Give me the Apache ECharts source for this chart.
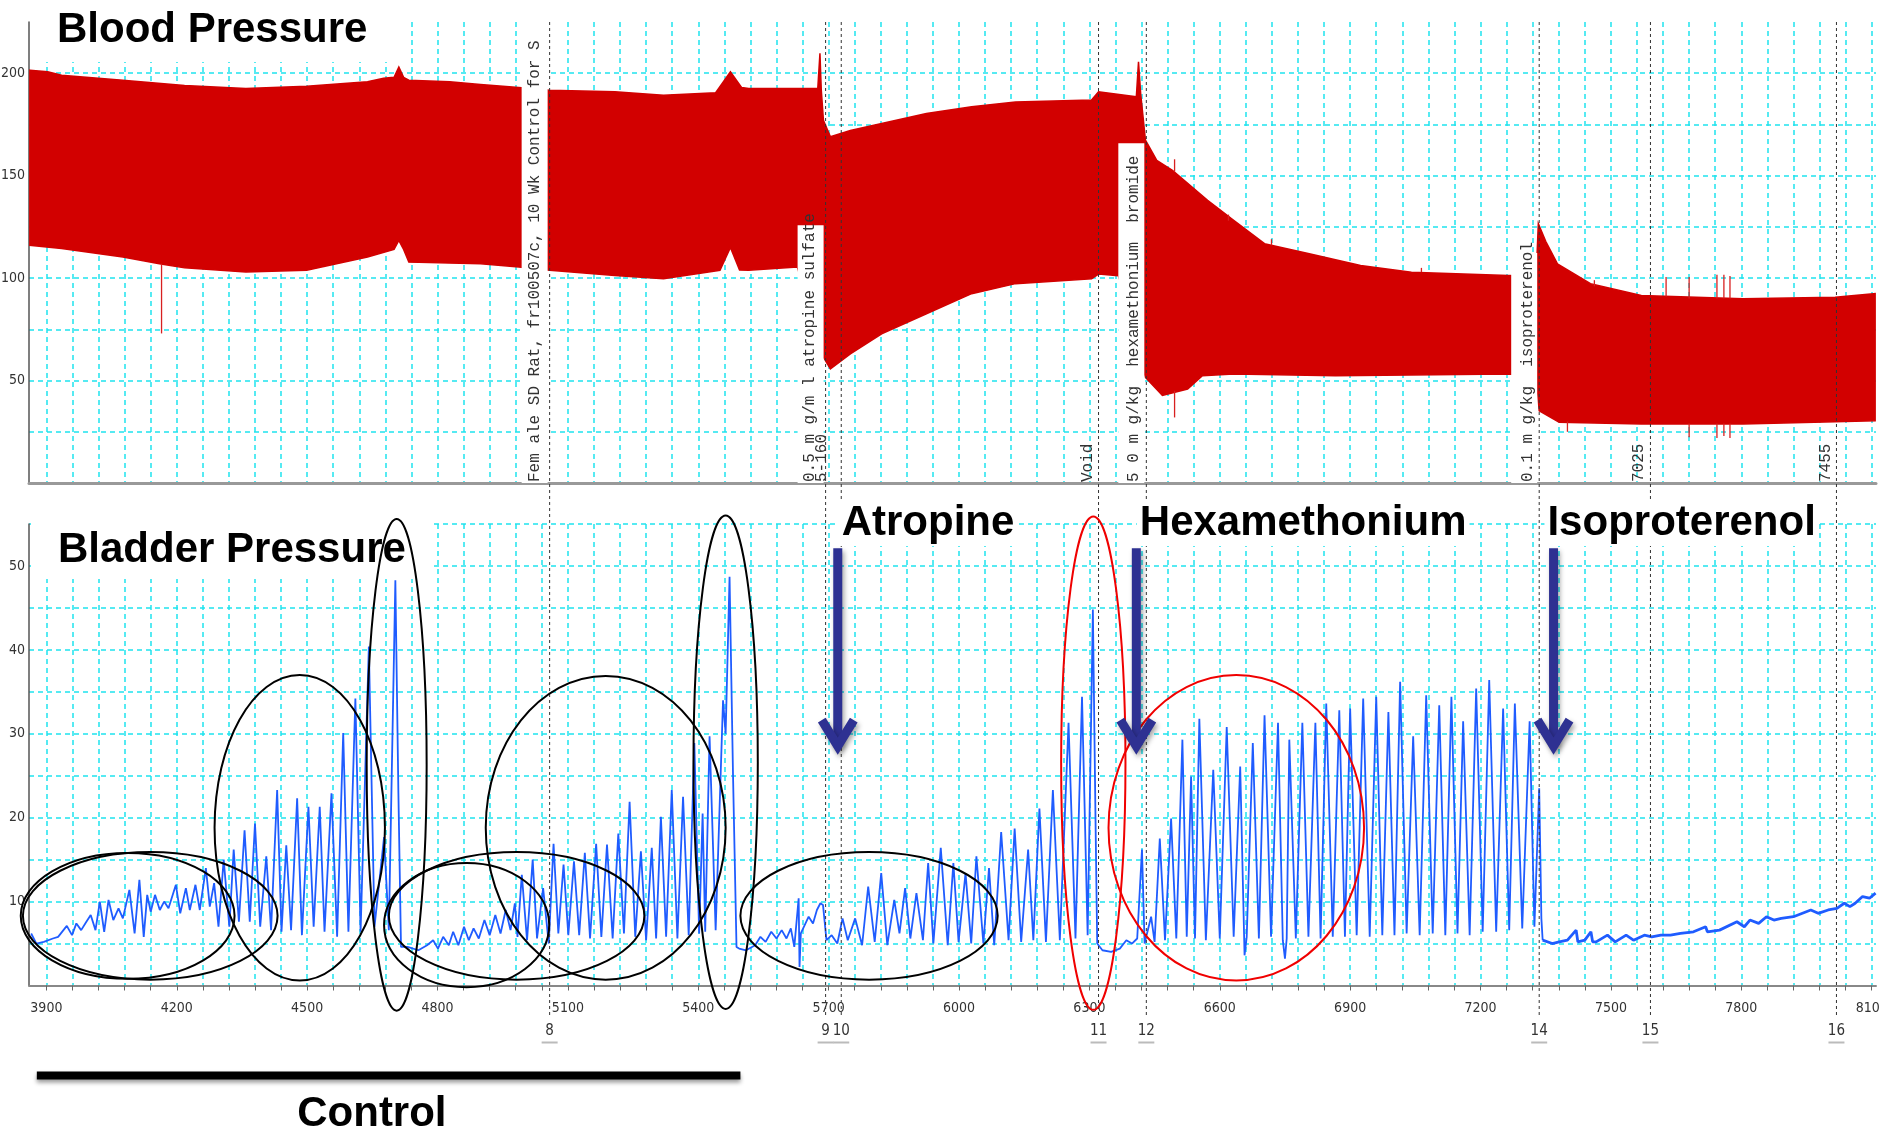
<!DOCTYPE html>
<html>
<head>
<meta charset="utf-8">
<title>Blood pressure / bladder pressure</title>
<script src="https://cdn.jsdelivr.net/npm/echarts@6.0.0/dist/echarts.min.js"></script>
<style>
  html, body { margin: 0; padding: 0; background: #fff; }
  #chart { width: 1880px; height: 1129px; }
</style>
</head>
<body>
<div id="chart"></div>
<script>
// axis ticks
const xTickLabels = [3900, 4200, 4500, 4800, 5100, 5400, 5700, 6000, 6300, 6600, 6900, 7200, 7500, 7800, 8100]
const bpTickLabels = [50, 100, 150, 200]
const bladderTickLabels = [10, 20, 30, 40, 50]

// blood pressure pulse band: upper and lower edge [time, mmHg]
const bpUpper = [
  [3862, 201.5], [3903, 200.7], [3935, 199], [4076, 196.6], [4218, 194], [4359, 192.6], [4499, 193.7],
  [4639, 195.8], [4676, 197.5], [4700, 198], [4711, 203], [4722, 198], [4734, 196.6], [4828, 195.8],
  [4899, 194.5], [4987, 193], [5058, 191.7], [5208, 190.9], [5320, 189.3], [5440, 190.5], [5474, 200.7],
  [5500, 193], [5516, 192.6], [5675, 192.6], [5680, 209.7], [5683, 192], [5688, 177], [5704, 169],
  [5750, 172], [5822, 175.5], [5925, 180.3], [6029, 183.6], [6130, 186], [6305, 186.9], [6321, 190.9],
  [6408, 188.5], [6413, 205.6], [6418, 190], [6429, 167.3], [6455, 157.5], [6491, 152.6], [6572, 138],
  [6632, 128.2], [6703, 116.8], [6806, 111.9], [6924, 106.2], [7041, 102.9], [7264, 101.3], [7328, 101],
  [7333, 126.6], [7350, 118], [7377, 107], [7453, 97.3], [7570, 91.5], [7804, 89.9], [8016, 90.6], [8108, 92.4]
]
const bpLower = [
  [3862, 116], [3935, 114.4], [4076, 110.3], [4160, 107], [4218, 105], [4359, 103], [4499, 103.8],
  [4639, 110.3], [4700, 114], [4711, 118.4], [4722, 114], [4734, 107.8], [4899, 107], [4987, 105.4],
  [5058, 103.8], [5208, 101.3], [5320, 99.7], [5450, 103.8], [5474, 115], [5495, 104], [5516, 103.8],
  [5628, 105.4], [5688, 61.4], [5704, 55.7], [5750, 63], [5822, 72.8], [5925, 82.6], [6029, 92.4],
  [6130, 97.3], [6305, 99.7], [6321, 102], [6367, 101.2], [6429, 51.6], [6468, 42.7], [6526, 45.9],
  [6560, 52.4], [6632, 53.2], [6866, 52.4], [7264, 53.2], [7328, 53], [7335, 35.3], [7381, 29.6],
  [7570, 28.8], [7804, 28.8], [8108, 30.4]
]
// single-beat artefacts [time, from, to]
const bpSpikes = [
  [4165, 107, 73], [6496, 45, 32], [6496, 152, 158], [6620, 128, 131], [6719, 116, 119], [7064, 103, 105],
  [7462, 96, 99], [7627, 91, 100.5], [7680, 90, 100.5], [7744, 90, 101.6], [7760, 90, 101.6], [7774, 90, 101],
  [7400, 30, 25], [7680, 29, 22.3], [7744, 29, 22], [7760, 29, 23], [7774, 29, 22]
]

// bladder pressure trace [time, cmH2O], one array per phase
const controlTrace1 = [
  [3865, 6.2], [3877, 5.0], [3894, 5.2], [3915, 5.6], [3927, 5.8], [3947, 7.1], [3959, 6.0], [3969, 7.4],
  [3980, 6.6], [3992, 7.6], [4002, 8.4], [4013, 6.6], [4023, 10.0], [4033, 6.4], [4043, 10.2], [4054, 7.8],
  [4066, 9.2], [4076, 8.0], [4091, 11.4], [4103, 6.2], [4114, 12.6], [4124, 5.8], [4132, 10.8], [4140, 8.8],
  [4150, 10.8], [4161, 9.0], [4171, 10.0], [4181, 9.2], [4198, 12.0], [4208, 8.6], [4221, 11.6], [4230, 9.0],
  [4243, 12.0], [4253, 9.0], [4267, 14.0], [4276, 9.4], [4286, 12.2], [4296, 7.0],
  [4308, 15.0], [4321, 7.0], [4331, 16.2], [4343, 7.6], [4356, 18.5], [4368, 7.6], [4380, 19.3], [4392, 7.0],
  [4406, 15.4], [4417, 6.6], [4431, 23.3], [4441, 6.4], [4452, 16.7], [4463, 6.6], [4477, 22.3], [4488, 6.0],
  [4503, 21.3], [4515, 7.0], [4529, 21.3], [4540, 6.4], [4556, 22.9], [4569, 5.8], [4583, 30.1], [4595, 6.4],
  [4611, 34.2], [4623, 6.4], [4642, 40.4], [4655, 7.0], [4677, 17.7], [4688, 6.6], [4703, 48.3], [4710, 22.9],
  [4716, 4.6]
]
const controlTrace2 = [
  [4731, 4.6], [4756, 4.2], [4776, 4.8], [4790, 5.4], [4801, 4.4], [4813, 5.8], [4826, 4.8], [4836, 6.4],
  [4848, 4.8], [4861, 7.0], [4872, 5.4], [4883, 6.8], [4895, 5.6], [4908, 7.8], [4920, 6.0], [4933, 8.4],
  [4945, 6.2], [4957, 9.0], [4968, 6.6], [4978, 9.8], [4984, 5.8], [4994, 13.2], [5006, 5.4], [5019, 15.0],
  [5029, 5.6], [5043, 11.6], [5056, 5.0], [5067, 16.9], [5078, 6.2], [5090, 14.4], [5101, 6.0], [5114, 14.8],
  [5126, 6.0], [5139, 15.8], [5151, 5.6], [5165, 16.9], [5177, 5.8], [5190, 16.8], [5203, 5.6], [5216, 18.1],
  [5229, 6.2], [5242, 21.9], [5255, 5.8], [5268, 16.0], [5280, 5.4], [5293, 16.4], [5303, 5.6], [5314, 20.1],
  [5326, 5.8], [5339, 23.3], [5352, 5.6], [5365, 22.5], [5378, 6.0], [5391, 28.9], [5402, 6.2], [5410, 20.5],
  [5416, 6.4], [5426, 29.7], [5440, 6.6], [5457, 34.0], [5463, 30], [5472, 48.7], [5480, 25.0], [5488, 4.6]
]
const atropineTrace = [
  [5494, 4.4], [5510, 4.2], [5531, 4.8], [5543, 5.8], [5555, 5.2], [5568, 6.4], [5580, 5.6], [5592, 6.6],
  [5603, 5.6], [5613, 6.8], [5621, 4.6], [5631, 10.4], [5633, 2.2], [5636, 6.2], [5654, 8.2], [5664, 7.4],
  [5673, 9.0], [5681, 9.8], [5687, 9.6], [5695, 5.4], [5707, 6.0], [5720, 5.0], [5732, 8.0], [5744, 5.4],
  [5761, 8.0], [5777, 4.8], [5791, 11.8], [5806, 5.2], [5821, 13.4], [5835, 4.8], [5851, 10.2], [5863, 6.2],
  [5876, 11.6], [5888, 5.6], [5902, 11.0], [5917, 5.4], [5929, 14.6], [5941, 5.0], [5958, 16.4], [5974, 4.8],
  [5987, 14.6], [5999, 5.2], [6015, 13.4], [6028, 5.0], [6040, 15.4], [6056, 5.0], [6069, 14.0], [6081, 4.8],
  [6097, 18.3], [6114, 5.4], [6128, 18.7], [6143, 5.2], [6159, 16.2], [6171, 5.4], [6185, 21.1], [6200, 5.2],
  [6216, 23.3], [6232, 5.4], [6252, 31.3], [6268, 5.6], [6283, 34.4], [6296, 6.0], [6308, 44.8], [6314, 20],
  [6318, 5.0], [6330, 4.2], [6350, 4.0], [6370, 4.4], [6385, 5.4], [6398, 5.0], [6410, 5.6]
]
const hexTrace = [
  [6421, 16.2], [6427, 5.0], [6442, 8.2], [6450, 5.2], [6462, 17.5], [6474, 5.4], [6488, 19.9], [6500, 5.6],
  [6514, 29.3], [6524, 5.8], [6534, 24.9], [6543, 5.6], [6553, 31.8], [6568, 5.4], [6585, 25.7], [6600, 5.6],
  [6616, 30.8], [6632, 5.8], [6647, 26.1], [6657, 3.6], [6662, 5.8], [6676, 28.9], [6690, 5.6], [6703, 32.2],
  [6718, 5.8], [6734, 31.3], [6745, 5.4], [6750, 3.2], [6754, 5.6], [6760, 29.3], [6775, 5.6], [6790, 31.3],
  [6804, 5.8], [6820, 31.3], [6832, 5.6], [6845, 33.6], [6860, 5.8], [6875, 32.8], [6888, 5.8], [6900, 33.0],
  [6915, 6.0], [6930, 34.2], [6945, 5.8], [6960, 34.4], [6974, 6.0], [6988, 32.6], [7002, 6.0], [7015, 36.2],
  [7030, 6.2], [7045, 29.7], [7060, 6.0], [7075, 34.6], [7090, 6.2], [7105, 33.4], [7119, 6.0], [7133, 34.4],
  [7147, 6.2], [7160, 31.5], [7175, 6.0], [7190, 35.4], [7205, 6.4], [7220, 36.4], [7236, 6.4], [7252, 33.0],
  [7266, 6.6], [7279, 33.6], [7296, 6.8], [7313, 31.5], [7324, 7.0], [7335, 23.5], [7340, 8], [7343, 5.4]
]
const isoTrace = [
  [7343, 5.4], [7347, 5.4], [7365, 5.0], [7381, 5.2], [7400, 5.4], [7420, 6.6], [7424, 5.2], [7440, 5.4], [7454, 6.4],
  [7458, 5.2], [7466, 5.2], [7492, 6.0], [7510, 5.2], [7535, 6.0], [7552, 5.4], [7577, 6.0], [7594, 5.8],
  [7615, 6.0], [7637, 6.0], [7660, 6.2], [7690, 6.4], [7718, 7.0], [7722, 6.4], [7750, 6.6], [7790, 7.6],
  [7807, 7.0], [7820, 7.8], [7840, 7.4], [7858, 8.2], [7875, 7.8], [7892, 8.0], [7920, 8.2], [7960, 9.0],
  [7977, 8.6], [8000, 9.0], [8020, 9.2], [8037, 9.8], [8050, 9.4], [8062, 9.8], [8079, 10.6], [8095, 10.4],
  [8109, 11.0]
]

// comment markers
const events = [[5058, '8'], [5693, '9'], [5729, '10'], [6321, '11'], [6431, '12'], [7335, '14'], [7591, '15'], [8019, '16']]
// [time, text, white box top (mmHg) or null]
const topNotes = [
  [5058, 'Fem ale SD Rat, fr100507c, 10 Wk Control for S', 225],
  [5693, '0.5 m g/m l atropine sulfate', 125.8],
  [5693, '5-160', null],
  [6321, 'Void', null],
  [6431, '5 0 m g/kg  hexamethonium  bromide', 165.8],
  [7335, '0.1 m g/kg  isoproterenol', 112.2],
  [7591, '7025', null],
  [8019, '7455', null]
]
const noteShift = [-15, -16, -4, -11, -13, -11, -12, -11]
// drug injections: [arrow time, label, label time]
const drugs = [[5721, 'Atropine', 5730], [6408, 'Hexamethonium', 6416], [7368, 'Isoproterenol', 7354]]
// hand-drawn ellipses [centre time, centre cmH2O, half width, half height]
const blackEllipses = [
  [4087, 8.3, 246, 7.5], [4139, 8.3, 293, 7.6], [4483, 18.8, 196, 18.2], [4706, 26.3, 69, 29.3],
  [4867, 7.2, 190, 7.4], [4982, 8.3, 294, 7.6], [5187, 18.8, 276, 18.1], [5463, 26.6, 74, 29.4],
  [5793, 8.3, 296, 7.6]
]
const redEllipses = [[6309, 26.5, 74, 29.4], [6638, 18.8, 294, 18.2]]
const controlSpan = [3878, 5497]
const controlLabelX = 4649

const TOP_Y = 22
const CYAN = '#1fe3ee'
const NAVY = '#2e3192'
const BLUE = '#1f5cff'
const narrow = '"Liberation Sans Narrow", "DejaVu Sans Condensed", sans-serif'
const mono = '"Liberation Mono", "DejaVu Sans Mono", monospace'
const bold42 = 'bold 42px "Liberation Sans", Arial, sans-serif'

const xGrid = []
for (let v = 3900; v <= 8100; v += 60) xGrid.push(v)

const gridLine = { show: true, lineStyle: { color: CYAN, width: 1.5, type: [5, 4] } }
const plain = v => String(v)

const chart = echarts.init(document.getElementById('chart'))

const option = {
  animation: false,
  backgroundColor: '#fff',
  title: [
    {
      text: 'Blood Pressure', left: 31, top: 0, padding: [9, 40, 11, 26], backgroundColor: '#fff',
      textStyle: { fontSize: 42, fontWeight: 'bold', fontFamily: '"Liberation Sans", Arial, sans-serif', color: '#000' }
    },
    {
      text: 'Bladder Pressure', left: 31, top: 521, padding: [8, 27, 8, 27], backgroundColor: '#fff',
      textStyle: { fontSize: 42, fontWeight: 'bold', fontFamily: '"Liberation Sans", Arial, sans-serif', color: '#000' }
    }
  ],
  grid: [
    { left: 29, right: 4, top: TOP_Y, height: 461, outerBoundsMode: 'none', containLabel: false },
    { left: 29, right: 4, top: 524, height: 461.5, outerBoundsMode: 'none', containLabel: false }
  ],
  xAxis: [
    {
      gridIndex: 0, type: 'value', min: 3860, max: 8110,
      axisLine: { lineStyle: { color: '#999', width: 3 } },
      axisTick: { show: false, customValues: xGrid },
      axisLabel: { show: false },
      splitLine: gridLine
    },
    {
      gridIndex: 1, type: 'value', min: 3860, max: 8110,
      axisLine: { lineStyle: { color: '#888', width: 2 } },
      axisTick: { show: true, length: 5, customValues: xGrid, lineStyle: { color: '#666' } },
      axisLabel: { customValues: xTickLabels, formatter: plain, margin: 16, fontSize: 14, fontFamily: narrow, color: '#333' },
      splitLine: gridLine
    }
  ],
  yAxis: [
    {
      gridIndex: 0, type: 'value', min: 0, max: 225, interval: 25,
      axisLine: { show: true, lineStyle: { color: '#555', width: 1.5 } },
      axisTick: { show: false },
      axisLabel: { customValues: bpTickLabels, formatter: plain, margin: 4, fontSize: 14, fontFamily: narrow, color: '#333' },
      splitLine: Object.assign({ showMaxLine: false }, gridLine)
    },
    {
      gridIndex: 1, type: 'value', min: 0, max: 55, interval: 5,
      axisLine: { show: true, lineStyle: { color: '#555', width: 1.5 } },
      axisTick: { show: false },
      axisLabel: { customValues: bladderTickLabels, formatter: plain, margin: 4, fontSize: 14, fontFamily: narrow, color: '#333' },
      splitLine: gridLine
    }
  ],
  series: [
    {
      // pulse band
      type: 'custom', xAxisIndex: 0, yAxisIndex: 0, z: 2, clip: true,
      data: [[3860, 0]],
      renderItem: function (params, api) {
        const pts = bpUpper.map(p => api.coord(p))
          .concat(bpLower.slice().reverse().map(p => api.coord(p)))
        return { type: 'polygon', shape: { points: pts }, style: { fill: '#d20000', stroke: '#d20000', lineWidth: 1.5 } }
      }
    },
    {
      type: 'custom', xAxisIndex: 0, yAxisIndex: 0, z: 3,
      data: bpSpikes,
      renderItem: function (params, api) {
        const a = api.coord([api.value(0), api.value(1)])
        const b = api.coord([api.value(0), api.value(2)])
        return { type: 'line', shape: { x1: a[0], y1: a[1], x2: b[0], y2: b[1] }, style: { stroke: '#d82020', lineWidth: 1.3 } }
      }
    },
    {
      // comment labels on the blood pressure panel
      type: 'custom', xAxisIndex: 0, yAxisIndex: 0, z: 8, clip: false,
      data: topNotes.map(n => [n[0], 0]),
      renderItem: function (params, api) {
        const note = topNotes[params.dataIndex]
        const base = api.coord([note[0], 0])
        const children = []
        if (note[2] !== null) {
          const top = api.coord([note[0], note[2]])[1]
          children.push({ type: 'rect', shape: { x: base[0] - 28, y: top, width: 26, height: base[1] - top }, style: { fill: '#fff' } })
        }
        children.push({
          type: 'text', x: base[0] + noteShift[params.dataIndex], y: base[1] - 1, rotation: Math.PI / 2,
          style: { text: note[1], font: '16px ' + mono, fill: '#333', align: 'left', verticalAlign: 'middle' }
        })
        return { type: 'group', children: children }
      }
    },
    {
      type: 'line', xAxisIndex: 1, yAxisIndex: 1, z: 3,
      showSymbol: false, symbol: 'none',
      lineStyle: { color: BLUE, width: 1.8 },
      data: controlTrace1.concat(controlTrace2, atropineTrace, hexTrace)
    },
    {
      // noisy baseline after isoproterenol
      type: 'line', xAxisIndex: 1, yAxisIndex: 1, z: 3,
      showSymbol: false, symbol: 'none',
      lineStyle: { color: BLUE, width: 2.8 },
      data: isoTrace
    },
    {
      // event markers running through both panels
      type: 'custom', xAxisIndex: 1, yAxisIndex: 1, z: 9, clip: false,
      data: events.map(e => [e[0], 0]),
      renderItem: function (params, api) {
        const p = api.coord([api.value(0), 0])
        return {
          type: 'group', children: [
            { type: 'line', shape: { x1: p[0], y1: TOP_Y, x2: p[0], y2: p[1] + 30 }, style: { stroke: '#333', lineWidth: 1, lineDash: [3, 3] } },
            { type: 'text', x: p[0], y: p[1] + 46, style: { text: events[params.dataIndex][1], font: '15px ' + narrow, fill: '#333', align: 'center', verticalAlign: 'middle' } },
            { type: 'line', shape: { x1: p[0] - 8, y1: p[1] + 57, x2: p[0] + 8, y2: p[1] + 57 }, style: { stroke: '#bbb', lineWidth: 2 } }
          ]
        }
      }
    },
    {
      type: 'custom', xAxisIndex: 1, yAxisIndex: 1, z: 10, clip: false,
      data: blackEllipses,
      renderItem: function (params, api) {
        const c = api.coord([api.value(0), api.value(1)])
        const s = api.size([api.value(2), api.value(3)])
        return { type: 'ellipse', shape: { cx: c[0], cy: c[1], rx: s[0], ry: s[1] }, style: { fill: null, stroke: '#000', lineWidth: 2 } }
      }
    },
    {
      type: 'custom', xAxisIndex: 1, yAxisIndex: 1, z: 10, clip: false,
      data: redEllipses,
      renderItem: function (params, api) {
        const c = api.coord([api.value(0), api.value(1)])
        const s = api.size([api.value(2), api.value(3)])
        return { type: 'ellipse', shape: { cx: c[0], cy: c[1], rx: s[0], ry: s[1] }, style: { fill: null, stroke: '#f00000', lineWidth: 2 } }
      }
    },
    {
      // drug arrows and names
      type: 'custom', xAxisIndex: 1, yAxisIndex: 1, z: 11, clip: false,
      data: drugs.map(d => [d[0], 0]),
      renderItem: function (params, api) {
        const d = drugs[params.dataIndex]
        const top = api.coord([d[0], 52.1])
        const tip = api.coord([d[0], 27.8])
        const lab = api.coord([d[2], 55])
        const shadow = { shadowBlur: 5, shadowColor: 'rgba(0,0,0,0.35)', shadowOffsetX: 2, shadowOffsetY: 3 }
        return {
          type: 'group', children: [
            { type: 'line', shape: { x1: top[0], y1: top[1], x2: tip[0], y2: tip[1] - 6 }, style: Object.assign({ stroke: NAVY, lineWidth: 9 }, shadow) },
            { type: 'polyline', shape: { points: [[tip[0] - 16, tip[1] - 32], [tip[0], tip[1] - 6], [tip[0] + 16, tip[1] - 32]] }, style: Object.assign({ stroke: NAVY, lineWidth: 9, fill: null, lineJoin: 'miter' }, shadow) },
            { type: 'text', x: lab[0] - 3, y: lab[1] - 22, style: { text: d[1], font: bold42, fill: '#000', align: 'left', verticalAlign: 'top', backgroundColor: '#fff', padding: [0, 3, 2, 3] } }
          ]
        }
      }
    },
    {
      // control period bar
      type: 'custom', xAxisIndex: 1, yAxisIndex: 1, z: 11, clip: false,
      data: [[controlSpan[0], 0]],
      renderItem: function (params, api) {
        const a = api.coord([controlSpan[0], 0])
        const b = api.coord([controlSpan[1], 0])
        const m = api.coord([controlLabelX, 0])
        return {
          type: 'group', children: [
            { type: 'rect', shape: { x: a[0], y: a[1] + 86, width: b[0] - a[0], height: 8 }, style: { fill: '#000', shadowBlur: 4, shadowColor: 'rgba(0,0,0,0.4)', shadowOffsetY: 3 } },
            { type: 'text', x: m[0], y: a[1] + 108, style: { text: 'Control', font: bold42, fill: '#000', align: 'center', verticalAlign: 'top' } }
          ]
        }
      }
    }
  ]
}

chart.setOption(option)
</script>
</body>
</html>
